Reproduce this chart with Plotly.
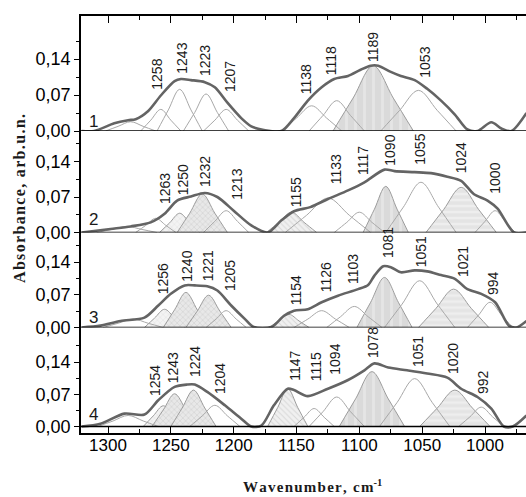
import plotly.graph_objects as go

# ---------------- data ----------------
# envelopes (wavenumber, absorbance)
env1_x = [1321, 1311, 1295, 1284, 1278, 1268, 1258, 1247, 1242, 1234, 1223, 1215, 1205, 1194, 1186, 1176,
          1162, 1152, 1141, 1130, 1120, 1109, 1099, 1091, 1085, 1075, 1067, 1056, 1046, 1035, 1024, 1014,
          1006, 995, 987, 979, 967]
env1_y = [0, 0, 0.015, 0.021, 0.023, 0.039, 0.069, 0.097, 0.101, 0.099, 0.095, 0.085, 0.055, 0.025, 0.009, 0.002,
          0, 0.025, 0.059, 0.085, 0.101, 0.107, 0.119, 0.127, 0.127, 0.115, 0.107, 0.099, 0.082, 0.059, 0.032, 0.003,
          0, 0.017, 0.005, 0, 0.035]

env2_x = [1321, 1298, 1282, 1266, 1255, 1245, 1234, 1223, 1213, 1200, 1186, 1173, 1162, 1152, 1139, 1125,
          1109, 1096, 1080, 1072, 1056, 1043, 1030, 1019, 1009, 998, 990, 977, 967]
env2_y = [0, 0.007, 0.012, 0.020, 0.037, 0.063, 0.071, 0.078, 0.070, 0.043, 0.014, 0, 0.024, 0.042, 0.050, 0.066,
          0.083, 0.099, 0.124, 0.121, 0.119, 0.117, 0.110, 0.102, 0.076, 0.063, 0.047, 0, 0]

env3_x = [1321, 1306, 1290, 1271, 1260, 1250, 1239, 1231, 1221, 1213, 1202, 1191, 1184, 1170, 1160, 1152, 1141,
          1130, 1117, 1101, 1093, 1088, 1081, 1075, 1067, 1056, 1046, 1035, 1024, 1014, 1003, 992, 981, 975, 967]
env3_y = [0, 0.004, 0.014, 0.021, 0.047, 0.072, 0.090, 0.090, 0.088, 0.079, 0.047, 0.018, 0.001, 0.001, 0.025,
          0.036, 0.039, 0.054, 0.068, 0.082, 0.091, 0.111, 0.131, 0.129, 0.118, 0.122, 0.120, 0.112, 0.104, 0.082,
          0.072, 0.054, 0.004, 0, 0.014]

env4_x = [1321, 1306, 1287, 1271, 1260, 1247, 1237, 1231, 1221, 1207, 1194, 1186, 1178, 1168, 1157, 1152, 1141,
          1125, 1109, 1096, 1088, 1077, 1062, 1046, 1030, 1019, 1006, 995, 985, 978, 967]
env4_y = [0, 0.006, 0.028, 0.026, 0.057, 0.086, 0.091, 0.091, 0.075, 0.046, 0.017, 0, 0.002, 0.046, 0.082, 0.079,
          0.066, 0.082, 0.101, 0.122, 0.137, 0.128, 0.122, 0.115, 0.106, 0.082, 0.064, 0.039, 0, 0, 0.024]

# fitted components (outline points)
comp1_x = [[1302, 1292, 1282, 1272, 1262], [1274, 1266, 1258, 1250, 1242], [1261, 1252, 1243, 1234, 1225],
           [1240, 1231, 1222, 1213, 1204], [1224, 1215, 1206, 1197, 1188], [1162, 1150, 1138, 1126, 1114],
           [1140, 1129, 1118, 1107, 1096], [1121, 1105, 1089, 1073, 1057], [1083, 1068, 1053, 1038, 1023]]
comp1_y = [[0, 0.009, 0.018, 0.009, 0], [0, 0.021, 0.042, 0.021, 0], [0, 0.041, 0.081, 0.041, 0],
           [0, 0.036, 0.072, 0.036, 0], [0, 0.021, 0.042, 0.021, 0], [0, 0.025, 0.049, 0.025, 0],
           [0, 0.030, 0.059, 0.030, 0], [0, 0.064, 0.127, 0.064, 0], [0, 0.040, 0.079, 0.040, 0]]
comp1_kind = ['plain', 'plain', 'plain', 'plain', 'plain', 'plain', 'plain', 'vstripe', 'plain']

comp2_x = [[1309, 1297, 1285, 1273, 1261], [1278, 1270, 1262, 1254, 1246], [1259, 1251, 1243, 1235, 1227],
           [1245, 1235, 1225, 1215, 1205], [1224, 1215, 1206, 1197, 1188], [1174, 1164, 1154, 1144, 1134],
           [1159, 1142, 1125, 1108, 1091], [1120, 1110, 1100, 1090, 1080], [1097, 1088, 1079, 1070, 1061],
           [1079, 1065, 1051, 1037, 1023], [1047, 1033, 1019, 1005, 991], [1008, 1000, 992, 984, 976]]
comp2_y = [[0, 0.006, 0.012, 0.006, 0], [0, 0.014, 0.028, 0.014, 0], [0, 0.019, 0.038, 0.019, 0],
           [0, 0.038, 0.076, 0.038, 0], [0, 0.022, 0.043, 0.022, 0], [0, 0.020, 0.040, 0.020, 0],
           [0, 0.034, 0.068, 0.034, 0], [0, 0.020, 0.040, 0.020, 0], [0, 0.046, 0.091, 0.046, 0],
           [0, 0.050, 0.099, 0.050, 0], [0, 0.045, 0.089, 0.045, 0], [0, 0.022, 0.043, 0.022, 0]]
comp2_kind = ['plain', 'plain', 'light', 'xhatch', 'plain', 'diag', 'plain', 'plain', 'vstripe', 'plain',
              'hstripe', 'plain']

comp3_x = [[1304, 1292, 1280, 1268, 1256], [1271, 1263, 1255, 1247, 1239], [1256, 1247, 1238, 1229, 1220],
           [1238, 1229, 1220, 1211, 1202], [1222, 1214, 1206, 1198, 1190], [1172, 1164, 1156, 1148, 1140],
           [1152, 1141, 1130, 1119, 1108], [1126, 1115, 1104, 1093, 1082], [1102, 1091, 1080, 1069, 1058],
           [1080, 1066, 1052, 1038, 1024], [1053, 1039, 1025, 1011, 997], [1014, 1005, 996, 987, 978]]
comp3_y = [[0, 0.009, 0.018, 0.009, 0], [0, 0.020, 0.039, 0.020, 0], [0, 0.038, 0.075, 0.038, 0],
           [0, 0.035, 0.069, 0.035, 0], [0, 0.018, 0.036, 0.018, 0], [0, 0.014, 0.028, 0.014, 0],
           [0, 0.018, 0.036, 0.018, 0], [0, 0.023, 0.045, 0.023, 0], [0, 0.054, 0.107, 0.054, 0],
           [0, 0.050, 0.100, 0.050, 0], [0, 0.041, 0.082, 0.041, 0], [0, 0.027, 0.054, 0.027, 0]]
comp3_kind = ['plain', 'light', 'xhatch', 'xhatch', 'plain', 'diag', 'plain', 'plain', 'vstripe', 'plain',
              'hstripe', 'plain']

comp4_x = [[1308, 1296, 1284, 1272, 1260], [1272, 1264, 1256, 1248, 1240], [1265, 1256, 1247, 1238, 1229],
           [1250, 1241, 1232, 1223, 1214], [1235, 1225, 1215, 1205, 1195], [1173, 1165, 1157, 1149, 1141],
           [1152, 1144, 1136, 1128, 1120], [1140, 1129, 1118, 1107, 1096], [1116, 1103, 1090, 1077, 1064],
           [1084, 1070, 1056, 1042, 1028], [1052, 1038, 1024, 1010, 996], [1021, 1012, 1003, 994, 985]]
comp4_y = [[0, 0.012, 0.024, 0.012, 0], [0, 0.023, 0.045, 0.023, 0], [0, 0.036, 0.071, 0.036, 0],
           [0, 0.040, 0.079, 0.040, 0], [0, 0.023, 0.046, 0.023, 0], [0, 0.041, 0.082, 0.041, 0],
           [0, 0.020, 0.039, 0.020, 0], [0, 0.032, 0.064, 0.032, 0], [0, 0.060, 0.119, 0.060, 0],
           [0, 0.052, 0.104, 0.052, 0], [0, 0.040, 0.079, 0.040, 0], [0, 0.021, 0.042, 0.021, 0]]
comp4_kind = ['plain', 'light', 'xhatch', 'xhatch', 'plain', 'diag', 'plain', 'plain', 'vstripe', 'plain',
              'hstripe', 'plain']

# peak labels
lab1 = ['1258', '1243', '1223', '1207', '1138', '1118', '1189', '1053']
lab2 = ['1263', '1250', '1232', '1213', '1155', '1133', '1117', '1090', '1055', '1024', '1000']
lab3 = ['1256', '1240', '1221', '1205', '1154', '1126', '1103', '1081', '1051', '1021', '994']
lab4 = ['1254', '1243', '1224', '1204', '1147', '1115', '1094', '1078', '1051', '1020', '992']
panel_names = ['1', '2', '3', '4']

x_ticks = [1300, 1250, 1200, 1150, 1100, 1050, 1000]
y_ticks = [0, 0.07, 0.14]
y_ticktext = ['0,00', '0,07', '0,14']
y_minor = [0.035, 0.105, 0.175]

# ---------------- layout helpers (pixels) ----------------
W, H = 526, 497
PL, PT, PB = 81, 16, 433
PW, PH = W - PL, PB - PT


def fx(px):
    return (px - PL) / PW


def fy(py):
    return (PB - py) / PH


# label placements (pixel centres)
lab1_pos = [(156.7, 74), (181.7, 58), (205, 61), (230, 77), (306.3, 79), (331.3, 61), (373, 47), (424.7, 62)]
lab2_pos = [(165, 189), (183.3, 180), (205, 172), (236.7, 184), (296.3, 192), (336.3, 169), (363, 161),
            (389.7, 150), (419.7, 149), (461.3, 158), (494.7, 178)]
lab3_pos = [(163.3, 279), (186.7, 266), (208.3, 266), (230, 276), (296.3, 290), (326.3, 277), (353, 269),
            (388, 243), (421.3, 252), (463, 262), (493, 283)]
lab4_pos = [(155, 381), (173.3, 368), (195, 362), (220, 379), (294.7, 366), (316.3, 367), (334.7, 359),
            (373, 343), (418, 352), (453, 359), (483, 382)]
name_pos = [(93, 122), (93, 219), (93, 317), (93, 414)]

# panels: top px, bottom px, zero px, px per 0.14
geom = [(16, 131, 131, 72), (131, 232.5, 232.5, 71), (232.5, 327.5, 327.5, 65.5), (327.5, 433, 426.5, 64.5)]

PATTERN = {
    'light': dict(shape='x', bgcolor='#f3f3f3', fgcolor='#cccccc', size=4, solidity=0.2),
    'xhatch': dict(shape='x', bgcolor='#e8e8e8', fgcolor='#b4b4b4', size=4, solidity=0.25),
    'diag': dict(shape='\\', bgcolor='#f0f0f0', fgcolor='#c0c0c0', size=4, solidity=0.25),
    'vstripe': dict(shape='|', bgcolor='#dadada', fgcolor='#f0f0f0', size=9, solidity=0.3),
    'hstripe': dict(shape='-', bgcolor='#e4e4e4', fgcolor='#f8f8f8', size=6, solidity=0.4),
}
FILLC = {'light': '#f3f3f3', 'xhatch': '#e8e8e8', 'diag': '#f0f0f0', 'vstripe': '#dadada', 'hstripe': '#e4e4e4'}

envs = [(env1_x, env1_y), (env2_x, env2_y), (env3_x, env3_y), (env4_x, env4_y)]
comps = [(comp1_x, comp1_y, comp1_kind), (comp2_x, comp2_y, comp2_kind),
         (comp3_x, comp3_y, comp3_kind), (comp4_x, comp4_y, comp4_kind)]
labs = [(lab1, lab1_pos), (lab2, lab2_pos), (lab3, lab3_pos), (lab4, lab4_pos)]

fig = go.Figure()
layout_axes = {}
shapes = []
annotations = []

for i in range(4):
    xa = 'x2' if i == 0 else 'x'
    ya = 'y' if i == 0 else 'y%d' % (i + 1)
    cx, cy, kinds = comps[i]
    # patterned components first
    for xs, ys, k in zip(cx, cy, kinds):
        if k == 'plain':
            continue
        fig.add_trace(go.Scatter(x=xs, y=ys, mode='lines', xaxis=xa, yaxis=ya,
                                 line=dict(shape='spline', smoothing=1, color='#9c9c9c', width=1),
                                 fill='tozeroy', fillcolor=FILLC[k], fillpattern=PATTERN[k],
                                 hoverinfo='skip', showlegend=False))
    for xs, ys, k in zip(cx, cy, kinds):
        if k != 'plain':
            continue
        fig.add_trace(go.Scatter(x=xs, y=ys, mode='lines', xaxis=xa, yaxis=ya,
                                 line=dict(shape='spline', smoothing=1, color='#a8a8a8', width=1),
                                 hoverinfo='skip', showlegend=False))
    ex, ey = envs[i]
    fig.add_trace(go.Scatter(x=ex, y=ey, mode='lines', xaxis=xa, yaxis=ya,
                             line=dict(shape='spline', smoothing=0.8, color='#646464', width=2.6),
                             hoverinfo='skip', showlegend=False))

    top, bot, zero, k14 = geom[i]
    ppu = k14 / 0.14
    key = 'yaxis' if i == 0 else 'yaxis%d' % (i + 1)
    layout_axes[key] = dict(
        domain=[fy(bot), fy(top)], range=[-(bot - zero) / ppu, (zero - top) / ppu],
        anchor=xa, showline=True, linecolor='black', linewidth=1.5, mirror=False, automargin=False,
        ticks='outside', ticklen=5, tickwidth=1.2, tickcolor='black',
        tickmode='array', tickvals=y_ticks, ticktext=y_ticktext,
        tickfont=dict(family='Liberation Sans, Arial', size=18, color='black'),
        minor=dict(tickmode='array', tickvals=y_minor, ticks='outside', ticklen=3, tickwidth=1, tickcolor='black'),
        showgrid=False, zeroline=False, fixedrange=True)
    shapes.append(dict(type='line', xref='paper', x0=0, x1=1, yref=ya, y0=0, y1=0,
                       line=dict(color='black', width=1.5), layer='above'))

    texts, poss = labs[i]
    for t, (px, py) in zip(texts, poss):
        annotations.append(dict(text=t, x=fx(px), y=fy(py), xref='paper', yref='paper', showarrow=False,
                                textangle=-90, xanchor='center', yanchor='middle',
                                font=dict(family='Liberation Sans, Arial', size=14, color='#1a1a1a')))
    nx, ny = name_pos[i]
    annotations.append(dict(text=panel_names[i], x=fx(nx), y=fy(ny), xref='paper', yref='paper',
                            showarrow=False, xanchor='center', yanchor='middle',
                            font=dict(family='Liberation Sans, Arial', size=17, color='#1a1a1a')))

xcommon = dict(showline=True, linecolor='black', linewidth=1.5, ticks='inside', ticklen=7, tickwidth=1.2,
               tickcolor='black', tickmode='array', tickvals=x_ticks, automargin=False,
               minor=dict(ticks='inside', ticklen=4, tickwidth=1, tickcolor='black', dtick=25, tick0=1000),
               showgrid=False, zeroline=False, fixedrange=True)

layout_axes['xaxis'] = dict(domain=[0, 1], range=[1321.5, 967.4], anchor='y4', side='bottom',
                            ticklabelstandoff=-4,
                            tickfont=dict(family='Liberation Sans, Arial', size=17, color='black'), **xcommon)
layout_axes['xaxis2'] = dict(domain=[0, 1], matches='x', anchor='y', side='top', showticklabels=False, **xcommon)

ytitle = '\u200a'.join('Absorbance, arb.u.n.')
annotations.append(dict(text='<b>' + ytitle + '</b>', x=fx(19), y=fy(199), xref='paper', yref='paper',
                        showarrow=False, textangle=-90, xanchor='center', yanchor='middle',
                        font=dict(family='Liberation Serif, Times New Roman', size=16, color='#1a1a1a')))
xtitle = '\u200a'.join('Wavenumber, cm')
annotations.append(dict(text='<b>' + xtitle + '<sup>-1</sup></b>', x=fx(312), y=fy(486), xref='paper',
                        yref='paper', showarrow=False, xanchor='center', yanchor='middle',
                        font=dict(family='Liberation Serif, Times New Roman', size=15, color='#1a1a1a')))

fig.update_layout(width=W, height=H, margin=dict(l=PL, r=0, t=PT, b=H - PB, autoexpand=False),
                  paper_bgcolor='white', plot_bgcolor='white', showlegend=False,
                  shapes=shapes, annotations=annotations, **layout_axes)

fig.write_html('out.html', config={'displayModeBar': False},
               post_script="document.body.style.margin='0px';document.body.style.overflow='hidden';")
